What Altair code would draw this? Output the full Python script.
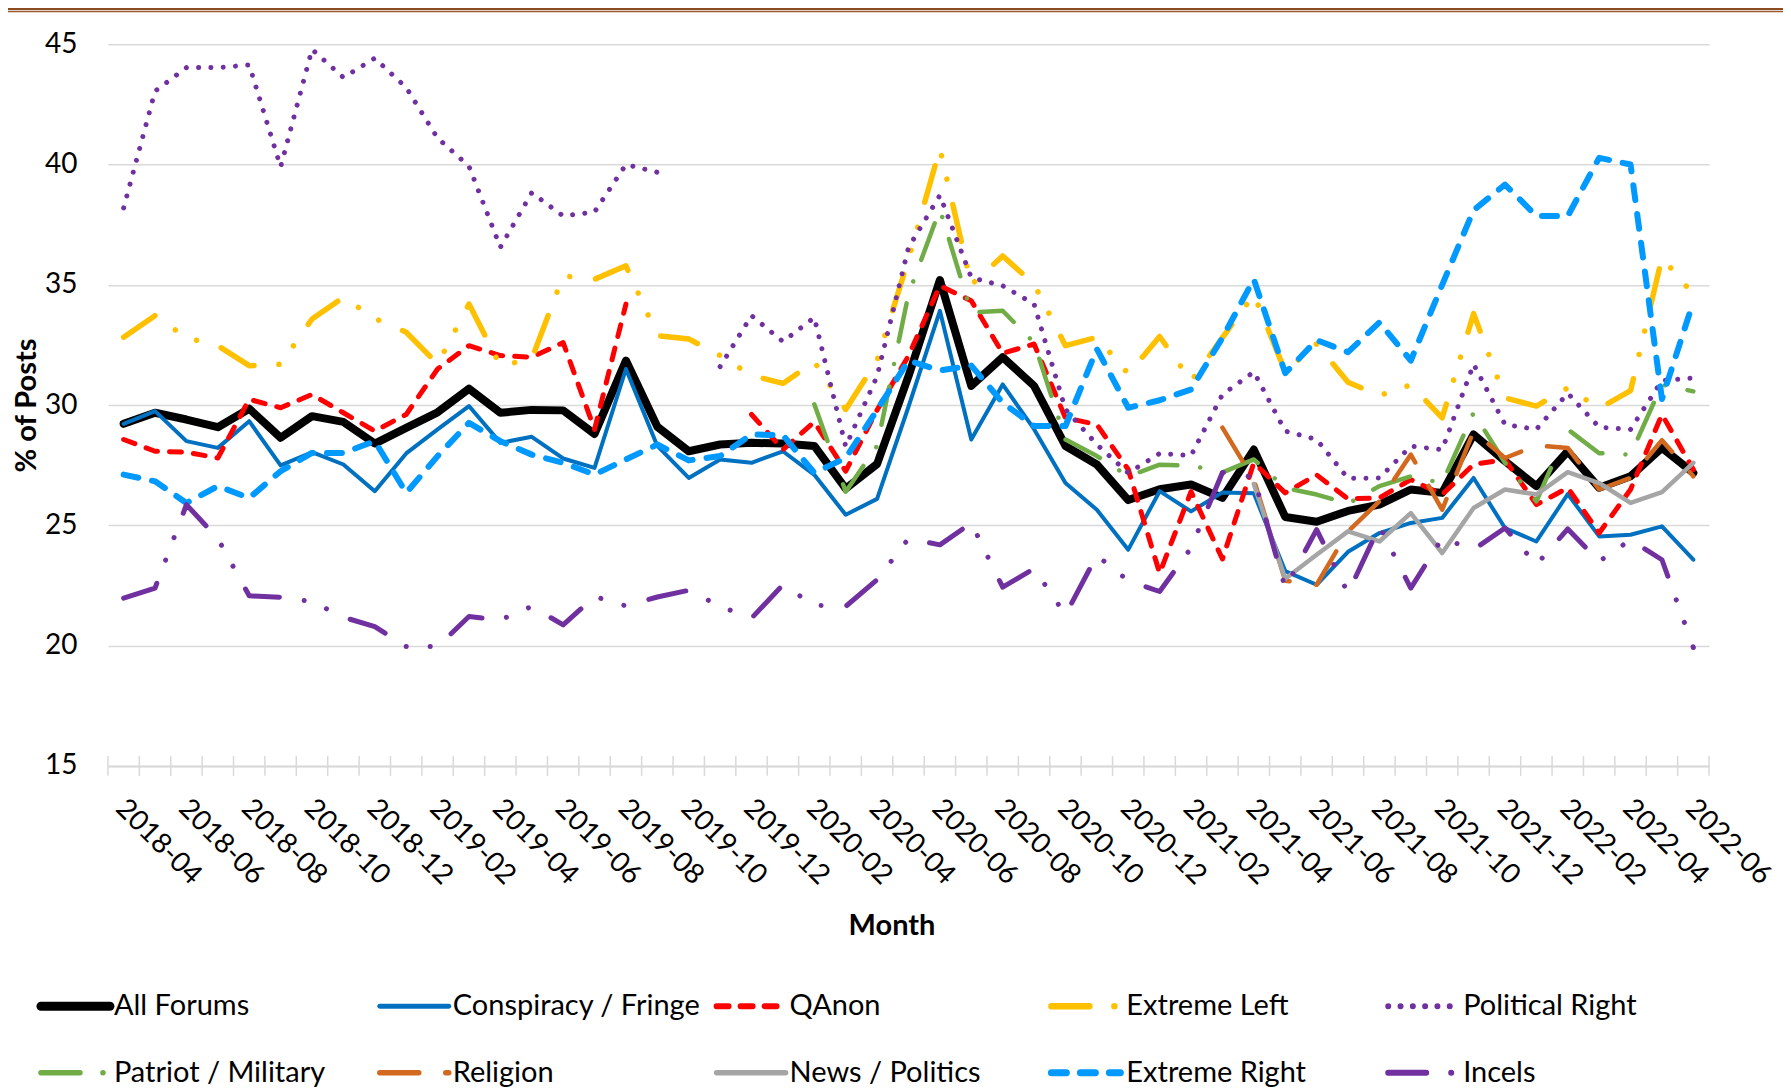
import altair as alt
import pandas as pd

months = ["2018-04","2018-05","2018-06","2018-07","2018-08","2018-09","2018-10","2018-11","2018-12",
          "2019-01","2019-02","2019-03","2019-04","2019-05","2019-06","2019-07","2019-08","2019-09",
          "2019-10","2019-11","2019-12","2020-01","2020-02","2020-03","2020-04","2020-05","2020-06",
          "2020-07","2020-08","2020-09","2020-10","2020-11","2020-12","2021-01","2021-02","2021-03",
          "2021-04","2021-05","2021-06","2021-07","2021-08","2021-09","2021-10","2021-11","2021-12",
          "2022-01","2022-02","2022-03","2022-04","2022-05","2022-06"]

all_forums = [29.22,29.68,29.4,29.08,29.85,28.64,29.54,29.3,28.4,29.05,29.7,30.68,29.68,29.8,29.78,28.8,31.85,
              29.1,28.08,28.36,28.43,28.4,28.3,26.53,27.55,31.2,35.2,30.8,31.99,30.8,28.3,27.53,26.05,26.5,
              26.7,26.14,28.15,25.35,25.15,25.6,25.86,26.49,26.35,28.78,27.67,26.63,28.08,26.56,27.04,28.22,27.18]
conspiracy = [29.22,29.75,28.5,28.22,29.33,27.49,28.04,27.53,26.42,27.99,28.99,29.96,28.43,28.68,27.78,27.39,31.5,
              28.3,26.97,27.74,27.6,28.08,27.1,25.44,26.1,29.93,33.92,28.57,30.86,29.0,26.76,25.65,23.99,26.42,
              25.58,26.37,26.33,23.1,22.53,23.9,24.68,25.1,25.31,26.97,24.89,24.33,26.3,24.54,24.61,24.96,23.57]
qanon = [28.57,28.08,28.04,27.8,30.24,29.89,30.44,29.68,28.92,29.61,31.5,32.47,32.06,31.99,32.6,28.99,34.2,
         None,None,None,29.61,28.15,29.3,27.25,29.8,32.05,34.96,34.34,32.15,32.54,29.47,29.19,27.32,23.01,
         26.4,23.6,27.6,26.35,27.1,26.1,26.14,26.9,26.28,27.53,27.74,25.86,26.56,24.68,26.49,29.61,27.32]
extreme_left = [32.82,33.72,32.8,32.47,31.64,31.7,33.58,34.48,33.6,33.03,31.71,34.2,31.64,31.92,35.37,35.23,35.79,
                32.89,32.75,32.06,31.23,30.9,31.8,29.82,31.85,36.06,40.66,35.0,36.2,35.03,32.47,32.82,31.3,32.85,
                31.0,32.8,34.6,31.4,32.54,30.95,30.4,30.84,29.47,33.8,30.3,29.96,30.72,29.86,30.6,36.13,34.6]
political_right = [38.2,43.05,44.03,44.03,44.14,39.9,44.79,43.62,44.42,43.2,41.1,39.93,36.56,38.83,37.86,38.03,40.0,
                   39.68,None,31.6,33.72,32.64,33.64,28.28,31.2,36.55,38.72,35.3,34.96,34.2,29.82,28.36,27.18,27.99,
                   27.9,30.44,31.38,28.92,28.57,26.95,26.97,28.29,28.15,31.7,29.19,28.99,30.49,29.08,28.99,31.02,31.13]
patriot_military = [None]*22 + [30.03,26.4,28.3,34.61,38.14,33.85,33.92,32.6,28.57,27.88,27.04,27.52,27.49,27.2,
                                27.74,26.56,26.28,25.9,26.63,27.04,26.76,29.68,27.6,26.0,28.99,28.0,27.94,30.85,30.57]
religion = [None]*35 + [29.06,26.9,22.7,22.53,24.75,26.0,27.94,25.65,28.92,27.8,28.32,28.22,26.49,26.97,28.54,27.04]
news_politics = [None]*36 + [26.72,22.78,23.78,24.75,24.33,25.51,23.85,25.72,26.49,26.28,27.21,26.76,25.93,26.38,27.6]
extreme_right = [27.11,26.83,25.93,26.63,26.14,27.25,28.01,28.01,28.5,26.35,27.88,29.26,28.5,27.94,27.6,27.11,27.74,
                 28.36,27.7,27.88,28.78,28.75,27.18,27.8,29.8,31.85,31.44,31.64,30.1,29.13,29.13,32.33,29.89,30.2,
                 30.65,32.8,35.23,31.33,32.7,32.2,33.44,31.85,35.0,38.1,39.17,37.86,37.86,40.28,40.0,30.25,34.3]
incels = [21.97,22.39,25.86,24.45,22.07,22.01,21.83,21.18,20.79,19.96,19.96,21.21,21.07,21.63,20.86,22.04,21.65,
          22.02,22.3,21.63,21.14,22.53,21.68,21.63,22.74,24.45,24.19,25.1,22.43,23.2,21.28,23.75,22.7,22.25,
          24.06,27.2,27.0,22.4,24.82,22.18,24.96,22.39,24.47,23.99,24.89,23.36,24.85,23.5,24.4,23.57,19.92]

series_names = ["All Forums", "Conspiracy / Fringe", "QAnon", "Extreme Left", "Political Right",
                "Patriot / Military", "Religion", "News / Politics", "Extreme Right", "Incels"]
series_values = [all_forums, conspiracy, qanon, extreme_left, political_right,
                 patriot_military, religion, news_politics, extreme_right, incels]

# line styles: color, width, dash pattern
styles = {
    "All Forums": ("#000000", 8, None),
    "Conspiracy / Fringe": ("#0070C0", 4, None),
    "QAnon": ("#FF0000", 5, [12, 12]),
    "Extreme Left": ("#FFC000", 5.5, [38, 25, 0.01, 24, 0.01, 26]),
    "Political Right": ("#7030A0", 5, [0.01, 12.3]),
    "Patriot / Military": ("#70AD47", 4.5, [39, 23, 0.01, 23]),
    "Religion": ("#D2691E", 4.5, [39, 27]),
    "News / Politics": ("#A5A5A5", 4.5, None),
    "Extreme Right": ("#0099FF", 6, [15, 14]),
    "Incels": ("#7030A0", 5, [38, 25, 0.01, 24, 0.01, 26]),
}

W, H = 1602, 722
FONT = "Lato"

def to_rows(name, values):
    out, seg, prev = [], 0, False
    for i, v in enumerate(values):
        if v is None:
            if prev:
                seg += 1
            prev = False
            continue
        out.append({"idx": i, "month": months[i], "value": v, "seg": seg, "series": name})
        prev = True
    return pd.DataFrame(out)

label_js = "[" + ",".join("'" + m + "'" for m in months) + "][datum.value]"

xscale = alt.Scale(domain=[-0.5, len(months) - 0.5], nice=False, zero=False)
yscale = alt.Scale(domain=[15, 45], nice=False, zero=False)

xaxis = alt.Axis(values=list(range(0, len(months), 2)), labelExpr=label_js, grid=False,
                 ticks=False, tickSize=0, domain=True, domainColor="#D9D9D9", domainWidth=2,
                 labelAngle=45, labelAlign="left", labelBaseline="top", labelPadding=28,
                 labelOffset=6,
                 labelFont=FONT, labelFontSize=28, labelColor="#000000", labelOverlap=False,
                 labelFlush=False, labelBound=False,
                 title="Month", titleFont=FONT, titleFontSize=29, titleFontWeight="bold",
                 titleColor="#000000", titleX=784, titleY=160, titleAlign="center",
                 titleBaseline="middle", titleAnchor="middle")
yaxis = alt.Axis(values=[15, 20, 25, 30, 35, 40, 45], grid=True, gridColor="#D9D9D9", gridWidth=1.5,
                 ticks=False, tickSize=0, domain=False, labelPadding=31,
                 labelFont=FONT, labelFontSize=28, labelColor="#000000",
                 title="% of Posts", titleFont=FONT, titleFontSize=29, titleFontWeight="bold",
                 titleColor="#000000", titleAngle=270, titleX=-81, titleY=H / 2,
                 titleAlign="center", titleBaseline="middle")

layers = []

# category separator ticks across the axis line
tick_df = pd.DataFrame({"idx": [i - 0.5 for i in range(len(months) + 1)]})
layers.append(alt.Chart(tick_df).mark_rule(color="#D9D9D9", strokeWidth=1.5).encode(
    x=alt.X("idx:Q", scale=xscale, axis=xaxis),
    y=alt.value(H - 10), y2=alt.value(H + 10)))

for name, vals in zip(series_names, series_values):
    color, width, dash = styles[name]
    mk = dict(color=color, strokeWidth=width, strokeJoin="round", strokeCap="round")
    if dash:
        mk["strokeDash"] = dash
    layers.append(alt.Chart(to_rows(name, vals)).mark_line(**mk).encode(
        x=alt.X("idx:Q", scale=xscale, axis=xaxis),
        y=alt.Y("value:Q", scale=yscale, axis=yaxis),
        detail="seg:N"))

# legend (two rows of five entries)
dummy = pd.DataFrame({"a": [0]})
sym_x = [-70, 269, 606, 941, 1278]
txt_x = [6, 345, 682, 1019, 1356]
row_y = [962.5, 1029]
for k, name in enumerate(series_names):
    r, c = divmod(k, 5)
    color, width, dash = styles[name]
    mk = dict(color=color, strokeWidth=width + 1, strokeCap="round")
    if dash:
        mk["strokeDash"] = dash
    layers.append(alt.Chart(dummy).mark_rule(**mk).encode(
        x=alt.value(sym_x[c] + 3), x2=alt.value(sym_x[c] + 72), y=alt.value(row_y[r])))
    layers.append(alt.Chart(dummy).mark_text(text=name, font=FONT, fontSize=29, color="#000000",
                                             align="left", baseline="middle").encode(
        x=alt.value(txt_x[c]), y=alt.value(row_y[r])))

# brown header rules at the top of the page
layers.append(alt.Chart(dummy).mark_rule(color="#8B4B23", strokeWidth=2.6).encode(
    x=alt.value(-110), x2=alt.value(W + 80), y=alt.value(-35.4)))
layers.append(alt.Chart(dummy).mark_rule(color="#9C5A30", strokeWidth=1.3).encode(
    x=alt.value(-110), x2=alt.value(W + 80), y=alt.value(-32.6)))

chart = alt.layer(*layers).properties(
    width=W, height=H,
    autosize=alt.AutoSizeParams(type="none"),
    padding={"left": 100, "top": 36, "right": 74, "bottom": 324},
).configure_view(stroke=None)

chart.save("out.html", embed_options={"renderer": "svg", "actions": False})
